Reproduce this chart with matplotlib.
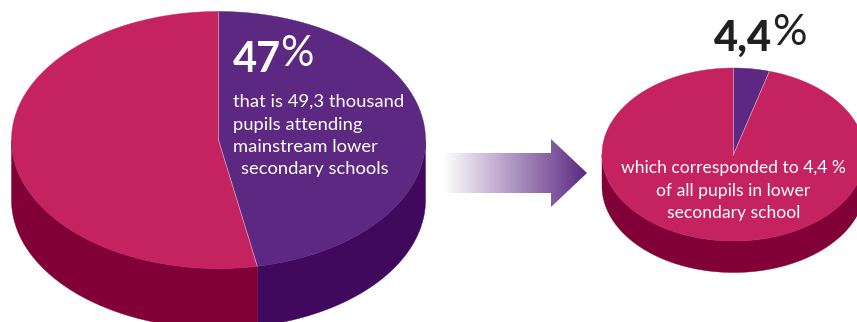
import numpy as np
import matplotlib
matplotlib.use('agg')
import matplotlib.pyplot as plt
from matplotlib.colors import LinearSegmentedColormap
from matplotlib.patches import Polygon

plt.rcParams['font.family'] = ['Lato', 'DejaVu Sans']

large_shares = [47, 53]
small_shares = [4.4, 95.6]
large_notes = ["that is 49,3 thousand", "pupils attending", "mainstream lower", "secondary schools"]
small_notes = ["which corresponded to 4,4 %", "of all pupils in lower", "secondary school"]

CRIMSON = '#C42360'
PURPLE = '#5C2882'
CRIMSON_DARK = '#820038'
PURPLE_DARK = '#41095E'
SEAM = '#D8A8C8'


def rim(cx, cy, rx, ry, start, stop, n=200):
    # angles run clockwise from twelve o'clock
    t = np.radians(np.linspace(start, stop, n))
    return cx + rx * np.sin(t), cy - ry * np.cos(t)


def draw_disc(ax, cx, cy, rx, ry, depth, shares, colors, side_colors):
    edges = np.cumsum([0] + list(shares)) / sum(shares) * 360
    for i, share in enumerate(shares):
        a, b = edges[i], edges[i + 1]
        # wall only shows on the front half
        lo, hi = max(a, 90), min(b, 270)
        if lo < hi:
            x, y = rim(cx, cy, rx, ry, lo, hi)
            pts = np.r_[np.c_[x, y], np.c_[x[::-1], y[::-1] + depth]]
            ax.add_patch(Polygon(pts, closed=True, fc=side_colors[i], ec=side_colors[i], lw=0.3, zorder=2))
        x, y = rim(cx, cy, rx, ry, a, b)
        pts = np.r_[[[cx, cy]], np.c_[x, y]]
        ax.add_patch(Polygon(pts, closed=True, fc=colors[i], ec=colors[i], lw=0.3, zorder=3))
    for e in edges[:-1]:
        x, y = rim(cx, cy, rx, ry, e, e, n=1)
        ax.plot([cx, x[0]], [cy, y[0]], color=SEAM, lw=0.5, zorder=4)


fig = plt.figure(figsize=(8.57, 3.22), dpi=100)
ax = fig.add_axes([0, 0, 1, 1])
ax.set_xlim(0, 857)
ax.set_ylim(322, 0)
ax.axis('off')

draw_disc(ax, 218.5, 140, 207, 128.5, 60, large_shares,
          [PURPLE, CRIMSON], [PURPLE_DARK, CRIMSON_DARK])
draw_disc(ax, 733.5, 154.5, 131.5, 86.5, 31.5, small_shares,
          [PURPLE, CRIMSON], [PURPLE_DARK, CRIMSON_DARK])

# block arrow fading in from the left
fade = LinearSegmentedColormap.from_list('fade', ['#FFFFFF', PURPLE])
img = ax.imshow(np.linspace(0, 1, 256).reshape(1, -1), cmap=fade, aspect='auto',
                extent=(443, 587, 207, 139), zorder=2)
arrow = Polygon([(443, 153), (551, 153), (551, 139), (587, 173), (551, 207), (551, 193), (443, 193)],
                closed=True, fc='none', ec='none', transform=ax.transData)
ax.add_patch(arrow)
img.set_clip_path(arrow)
ax.set_xlim(0, 857)
ax.set_ylim(322, 0)

ax.text(233, 71.5, "47", color='white', fontsize=30, fontweight='bold', va='baseline', zorder=5)
ax.text(280, 66, "%", color='white', fontsize=30, va='baseline', zorder=5)
large_x = [233, 233, 233, 241]
for note, x, y in zip(large_notes, large_x, [107, 129.5, 152, 174]):
    ax.text(x, y, note, color='white', fontsize=13.2, va='baseline', zorder=5)

ax.text(714, 51, "4,4", color='#231F20', fontsize=30, fontweight='black', va='baseline', zorder=5)
ax.text(772, 45, "%", color='#231F20', fontsize=31, va='baseline', zorder=5)
for note, y in zip(small_notes, [173, 195.5, 218]):
    ax.text(733.5, y, note, color='white', fontsize=12.6, ha='center', va='baseline', zorder=5)

fig.savefig('out.png', dpi=100)
